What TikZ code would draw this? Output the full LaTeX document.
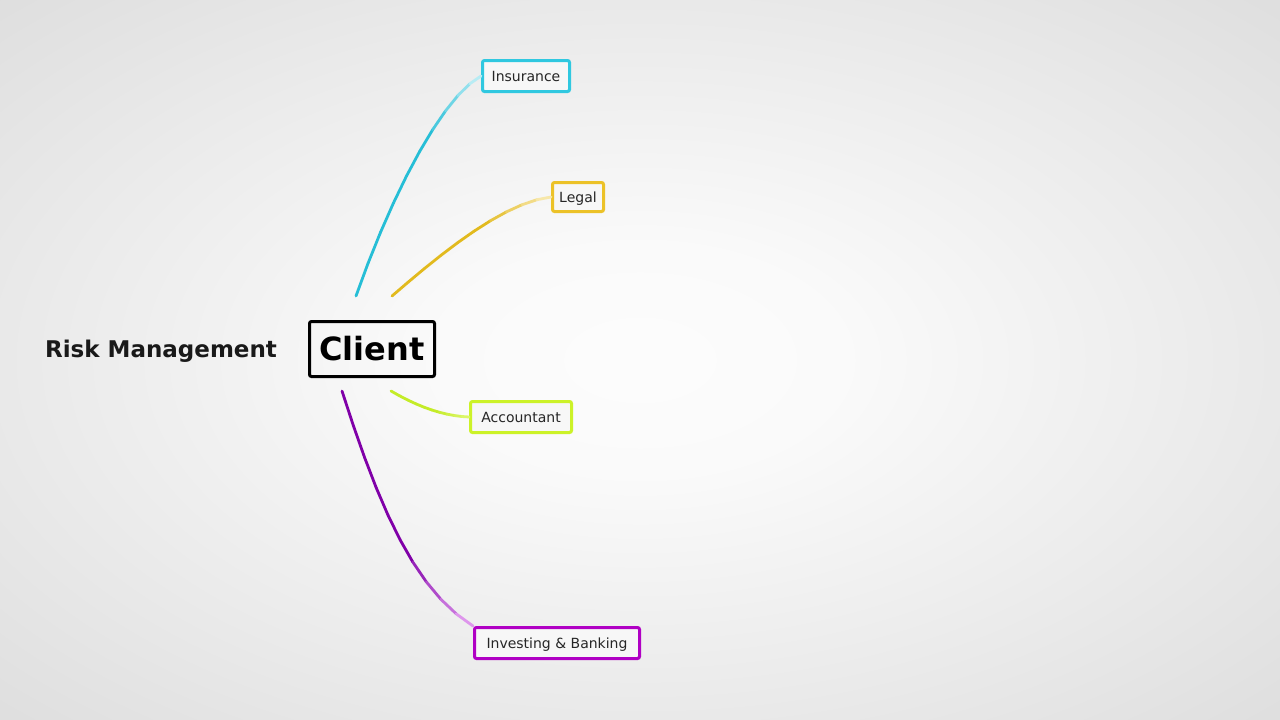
\documentclass[tikz,border=0pt]{standalone}
\usepackage{fontspec}
\setmainfont{DejaVu Sans}
\pgfdeclareradialshading{bgshade}{\pgfpoint{0bp}{0bp}}{rgb(0bp)=(0.99,0.99,0.99); rgb(8bp)=(0.98,0.98,0.98); rgb(36bp)=(0.87,0.87,0.87); rgb(50bp)=(0.86,0.86,0.86)}
\definecolor{cyanc}{RGB}{48,200,224}
\definecolor{cyand}{RGB}{38,190,214}
\definecolor{yelc}{RGB}{236,194,40}
\definecolor{yeld}{RGB}{226,186,30}
\definecolor{limec}{RGB}{204,242,40}
\definecolor{limed}{RGB}{196,236,40}
\definecolor{purc}{RGB}{176,0,196}
\definecolor{purd}{RGB}{128,0,168}
\definecolor{purl}{RGB}{222,150,236}
\tikzset{
  topic/.style={draw=#1, line width=3pt, rounded corners=2pt, fill=white!97!black, inner sep=0pt, text height=10.4pt, text depth=0pt, font=\fontsize{14}{16}\selectfont, text=black!85},
  hub/.style={draw=black, line width=3pt, rounded corners=2pt, inner sep=0pt, font=\bfseries\fontsize{32}{38}\selectfont, text=black},
  seg/.style={line width=2.8pt, line cap=round}
}
% #1 start, #2 c1, #3 c2, #4 end, #5 dark colour, #6 light colour
\newcommand\gradcurve[6]{%
  \path (#1) .. controls (#2) and (#3) .. (#4)
    coordinate[pos=0] (g0) coordinate[pos=0.1] (g1) coordinate[pos=0.2] (g2)
    coordinate[pos=0.3] (g3) coordinate[pos=0.4] (g4) coordinate[pos=0.5] (g5)
    coordinate[pos=0.6] (g6) coordinate[pos=0.7] (g7) coordinate[pos=0.8] (g8)
    coordinate[pos=0.9] (g9) coordinate[pos=1] (g10);
  \foreach \k in {0,...,9}{%
    \pgfmathtruncatemacro\j{\k+1}%
    \pgfmathtruncatemacro\m{max(0,min(100,(\k-5)*25))}%
    \draw[seg, color=#6!\m!#5] (g\k) -- (g\j);
  }%
}
\begin{document}
\begin{tikzpicture}[x=1pt,y=-1pt]
\useasboundingbox (0,0) rectangle (1280,720);
\shade[shading=bgshade] (0,0) rectangle (1280,720);

\node[font=\bfseries\fontsize{23}{27}\selectfont, text=black!90] (risk) at (161,351) {Risk Management};
\node[hub, minimum width=125pt, minimum height=55pt] (client) at (372,349) {Client};

\node[topic=cyanc, minimum width=87pt, minimum height=31pt] (ins) at (526,76) {Insurance};
\node[topic=yelc, minimum width=51pt, minimum height=29pt] (leg) at (578,197) {Legal};
\node[topic=limec, minimum width=101pt, minimum height=31pt] (acc) at (521,417) {Accountant};
\node[topic=purc, minimum width=165pt, minimum height=31pt] (inv) at (557,643) {Investing \& Banking};

\coordinate (sIns) at (356,296);
\coordinate (sLeg) at (392,296);
\coordinate (sAcc) at (391,391);
\coordinate (sInv) at (342,391);

\gradcurve{sIns}{395,185}{445,95}{ins.west}{cyand}{cyanc!35!white}
\gradcurve{sLeg}{445,250}{505,202}{leg.west}{yeld}{yelc!40!white}
\gradcurve{sAcc}{420,408}{445,416}{acc.west}{limed}{limec!70!white}
\gradcurve{sInv}{380,510}{415,590}{inv.north west}{purd}{purl}

\end{tikzpicture}
\end{document}
